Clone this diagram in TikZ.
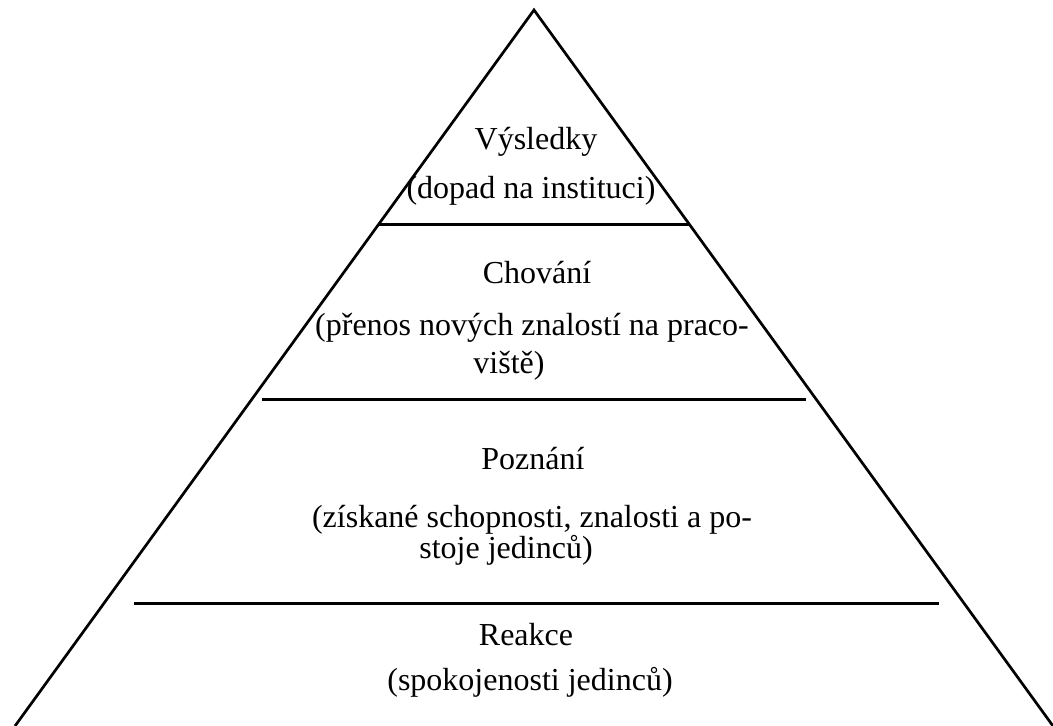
\documentclass[tikz,border=0pt]{standalone}
\usepackage{fontspec}
\setmainfont{Liberation Serif}
\begin{document}
\begin{tikzpicture}[x=1pt,y=-1pt,
  edge/.style={line width=2.7pt,black},
  lbl/.style={anchor=base,inner sep=0pt,font=\fontsize{32}{38}\selectfont}]
\useasboundingbox (0,0) rectangle (1053,726);
% pyramid sides
\coordinate (apex) at (534,10);
\coordinate (bl) at (15,726);
\coordinate (br) at (1053,726);
\draw[edge,line join=miter] (bl) -- (apex) -- (br);
% dividing lines
\coordinate (l1a) at (378,224.5); \coordinate (l1b) at (689,224.5);
\coordinate (l2a) at (262,399.5); \coordinate (l2b) at (806,399.5);
\coordinate (l3a) at (134,603.5); \coordinate (l3b) at (939,603.5);
\draw[edge] (l1a) -- (l1b);
\draw[edge] (l2a) -- (l2b);
\draw[edge] (l3a) -- (l3b);
% texts
\node[lbl] (t1) at (536,149) {Výsledky};
\node[lbl] (t2) at (531,198) {(dopad na instituci)};
\node[lbl] (t3) at (537,283) {Chování};
\node[lbl] (t4) at (532,335) {(přenos nových znalostí na praco-};
\node[lbl] (t5) at (509,373) {viště)};
\node[lbl] (t6) at (533,469) {Poznání};
\node[lbl] (t7) at (532,527) {(získané schopnosti, znalosti a po-};
\node[lbl] (t8) at (506,558) {stoje jedinců)};
\node[lbl] (t9) at (526,645) {Reakce};
\node[lbl] (t10) at (530,690) {(spokojenosti jedinců)};
\end{tikzpicture}
\end{document}
